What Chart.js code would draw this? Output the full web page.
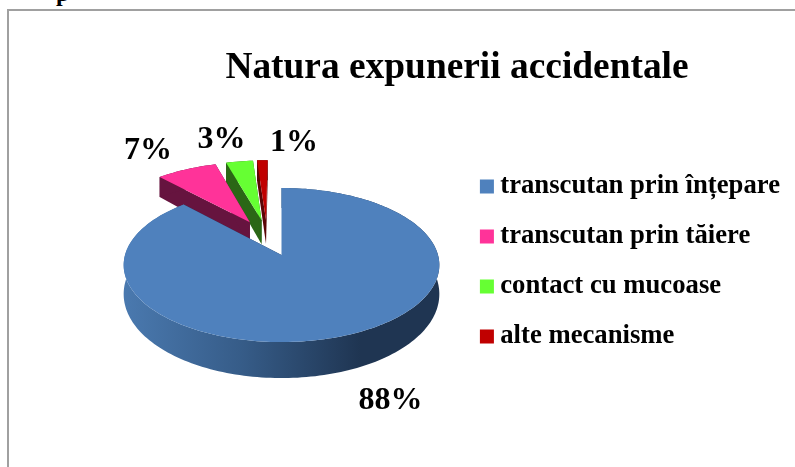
<!DOCTYPE html>
<html><head><meta charset="utf-8">
<script src="https://cdn.jsdelivr.net/npm/chart.js@4"></script>
<style>
html,body{margin:0;padding:0;background:#fff;overflow:hidden}
#page{position:relative;width:795px;height:467px;overflow:hidden}
#frame{position:absolute;left:7px;top:9px;width:800px;height:480px;border:2px solid #a0a0a0;box-sizing:border-box}
#clip{position:absolute;left:56px;top:-19px;font:bold 24px "Liberation Serif",serif;line-height:24px;color:#000}
canvas{position:absolute;left:0;top:0}
</style></head><body>
<div id="page"><div id="frame"></div><div id="clip">p</div><canvas id="c" width="795" height="467"></canvas></div>
<script>
const categories = ["transcutan prin înțepare","transcutan prin tăiere","contact cu mucoase","alte mecanisme"];
const values = [88, 7.4, 3.3, 1.3];
const topColors = ["#4F81BD","#FF3399","#66FF33","#C00000"];
const sideColors = ["#1F3552","#66143F","#2B6716","#5A0505"];
const explode = [0, 72, 72, 72];
const explodeDirDeg = [0, 25, 15.5, 12];
const labelRadius = [1.62, 1.52, 1.48, 1.40];
const labelNudge = [[-7,4],[-10,5],[-9,2],[33,3]];

const P = {cx:281.5, cy:255, rx:156.5, A:42.6, C:-0.13};
function project(u,v){
  const w = 1 + P.C*v;
  return [P.cx + P.rx*u/w, (P.A*v + P.cy)/w];
}
function depth(v){ return 28 + 8*Math.max(-1,Math.min(1,v)); }

const pie3d = {
  id:'pie3d',
  afterLayout(chart){
    const t = chart.titleBlock;
    if(t){ t.left = 119; t.right = 795; }
    const l = chart.legend;
    if(l){ l.top += 5; l.bottom += 5; }
  },
  beforeDatasetDraw(chart){
    const ctx = chart.ctx;
    const arcs = chart.getDatasetMeta(0).data;
    const order = [3,2,1,0];
    order.forEach(i=>{
      const a = arcs[i].getProps(['x','y','startAngle','endAngle','outerRadius']);
      const R = a.outerRadius;
      const off = explode[i]/R;
      const dir = (explodeDirDeg[i]-90)*Math.PI/180;
      const ou = i? -Math.abs(Math.cos(dir))*off : 0;
      const ov = i? Math.sin(dir)*off : 0;
      const pts = [];
      const n = Math.max(8,Math.round((a.endAngle-a.startAngle)*40));
      for(let k=0;k<=n;k++){
        const t = a.startAngle+(a.endAngle-a.startAngle)*k/n;
        pts.push([ou+Math.cos(t),ov+Math.sin(t)]);
      }
      const apex = [ou,ov];
      const down = p=>{const s=project(p[0],p[1]);return [s[0],s[1]+depth(p[1])];};
      const poly = (list,fill)=>{
        ctx.beginPath();
        list.forEach((s,j)=> j?ctx.lineTo(s[0],s[1]):ctx.moveTo(s[0],s[1]));
        ctx.closePath();ctx.fillStyle=fill;ctx.fill();
      };
      [pts[0],pts[pts.length-1]].forEach(p=>{
        poly([project(apex[0],apex[1]),project(p[0],p[1]),down(p),down(apex)],sideColors[i]);
      });
      let fill = sideColors[i];
      if(i===0){
        const g = ctx.createLinearGradient(124,0,360,0);
        g.addColorStop(0,"#4A79AF");g.addColorStop(0.5,"#365C88");g.addColorStop(1,"#1F3552");
        fill = g;
      }
      poly(pts.map(p=>project(p[0],p[1])).concat(pts.slice().reverse().map(down)),fill);
      poly([project(apex[0],apex[1])].concat(pts.map(p=>project(p[0],p[1]))),topColors[i]);
    });
    ctx.font='bold 32px "Liberation Serif",serif';
    ctx.fillStyle='#000';ctx.textAlign='center';ctx.textBaseline='middle';
    arcs.forEach((el,i)=>{
      const a = el.getProps(['x','y','startAngle','endAngle','outerRadius']);
      const R=a.outerRadius, off=explode[i]/R, dir=(explodeDirDeg[i]-90)*Math.PI/180;
      const m=(a.startAngle+a.endAngle)/2;
      const ou = i? -Math.abs(Math.cos(dir))*off:0, ov = i? Math.sin(dir)*off:0;
      const s=project(ou+Math.cos(m)*labelRadius[i],ov+Math.sin(m)*labelRadius[i]);
      ctx.fillText(Math.round(values[i])+'%',s[0]+labelNudge[i][0],s[1]+labelNudge[i][1]);
    });
    return false;
  }
};

new Chart(document.getElementById('c'),{
  type:'pie',
  data:{labels:categories,datasets:[{data:values,backgroundColor:topColors,offset:explode,borderWidth:0}]},
  options:{
    responsive:false,animation:false,rotation:0,
    layout:{padding:{top:46,right:5,bottom:0,left:0}},
    plugins:{
      tooltip:{enabled:false},
      title:{display:true,text:"Natura expunerii accidentale",color:'#000',
        font:{family:'"Liberation Serif",serif',size:37.4,weight:'bold'},padding:{top:0,bottom:20}},
      legend:{position:'right',labels:{color:'#000',boxWidth:0.01,boxHeight:0.01,padding:23.3,
        font:{family:'"Liberation Serif",serif',size:26.7,weight:'bold'},
        generateLabels(chart){
          return Chart.overrides.pie.plugins.legend.labels.generateLabels(chart).map((it,i)=>
            Object.assign(it,{strokeStyle:topColors[i],lineWidth:14,lineJoin:'miter'}));
        }}}
    }
  },
  plugins:[pie3d]
});
</script></body></html>
